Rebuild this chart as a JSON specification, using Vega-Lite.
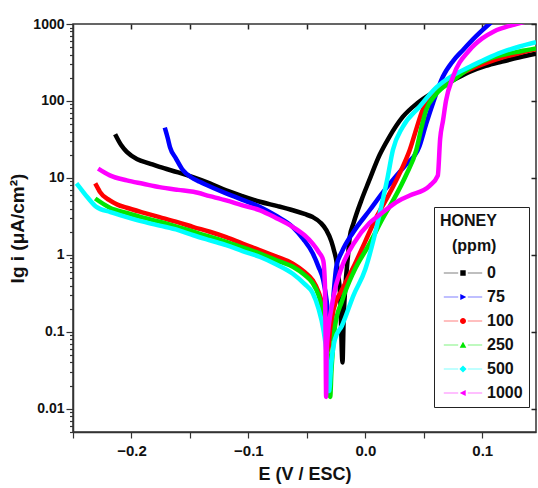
{
  "$schema": "https://vega.github.io/schema/vega-lite/v6.json",
  "width": 463,
  "height": 408,
  "autosize": {"type": "none"},
  "padding": {"left": 73, "top": 24, "right": 2, "bottom": 56},
  "background": "white",
  "config": {
    "font": "Liberation Sans",
    "view": {"stroke": "#333333", "strokeWidth": 1.5},
    "legend": {"symbolStrokeWidth": 0},
    "axis": {
      "domainColor": "#333333",
      "domainWidth": 1.5,
      "tickColor": "#333333",
      "tickWidth": 1.2,
      "grid": false,
      "labelFont": "Liberation Sans",
      "labelFontWeight": "bold",
      "labelColor": "#111111",
      "titleFont": "Liberation Sans",
      "titleFontWeight": "bold",
      "titleColor": "#111111",
      "labelOverlap": false
    }
  },
  "data": {
    "values": [
      {"ppm": "0", "E": -0.214, "i": 37},
      {"ppm": "0", "E": -0.209, "i": 27},
      {"ppm": "0", "E": -0.204, "i": 21.8},
      {"ppm": "0", "E": -0.195, "i": 17.5},
      {"ppm": "0", "E": -0.185, "i": 15.5},
      {"ppm": "0", "E": -0.176, "i": 13.9},
      {"ppm": "0", "E": -0.16, "i": 11.8},
      {"ppm": "0", "E": -0.148, "i": 10.3},
      {"ppm": "0", "E": -0.133, "i": 8.5},
      {"ppm": "0", "E": -0.119, "i": 6.9},
      {"ppm": "0", "E": -0.105, "i": 5.8},
      {"ppm": "0", "E": -0.09, "i": 4.9},
      {"ppm": "0", "E": -0.075, "i": 4.3},
      {"ppm": "0", "E": -0.062, "i": 3.8},
      {"ppm": "0", "E": -0.052, "i": 3.4},
      {"ppm": "0", "E": -0.045, "i": 3.1},
      {"ppm": "0", "E": -0.038, "i": 2.6},
      {"ppm": "0", "E": -0.0333, "i": 2.1},
      {"ppm": "0", "E": -0.029, "i": 1.5},
      {"ppm": "0", "E": -0.0265, "i": 1.1},
      {"ppm": "0", "E": -0.0248, "i": 0.85},
      {"ppm": "0", "E": -0.0235, "i": 0.6},
      {"ppm": "0", "E": -0.0215, "i": 0.3},
      {"ppm": "0", "E": -0.0195, "i": 0.04},
      {"ppm": "0", "E": -0.0185, "i": 0.15},
      {"ppm": "0", "E": -0.017, "i": 0.4},
      {"ppm": "0", "E": -0.015, "i": 0.9},
      {"ppm": "0", "E": -0.0133, "i": 1.7},
      {"ppm": "0", "E": -0.01, "i": 2.6},
      {"ppm": "0", "E": -0.0034, "i": 5.1},
      {"ppm": "0", "E": 0.003, "i": 9},
      {"ppm": "0", "E": 0.0123, "i": 20},
      {"ppm": "0", "E": 0.02, "i": 33},
      {"ppm": "0", "E": 0.032, "i": 62},
      {"ppm": "0", "E": 0.045, "i": 95},
      {"ppm": "0", "E": 0.061, "i": 138},
      {"ppm": "0", "E": 0.075, "i": 185},
      {"ppm": "0", "E": 0.089, "i": 238},
      {"ppm": "0", "E": 0.103, "i": 285},
      {"ppm": "0", "E": 0.117, "i": 325},
      {"ppm": "0", "E": 0.132, "i": 370},
      {"ppm": "0", "E": 0.146, "i": 412},

      {"ppm": "75", "E": -0.1715, "i": 45},
      {"ppm": "75", "E": -0.169, "i": 33},
      {"ppm": "75", "E": -0.167, "i": 25},
      {"ppm": "75", "E": -0.162, "i": 18},
      {"ppm": "75", "E": -0.156, "i": 12.6},
      {"ppm": "75", "E": -0.149, "i": 10.2},
      {"ppm": "75", "E": -0.1416, "i": 8.9},
      {"ppm": "75", "E": -0.13, "i": 7.4},
      {"ppm": "75", "E": -0.119, "i": 6.3},
      {"ppm": "75", "E": -0.105, "i": 5.2},
      {"ppm": "75", "E": -0.09, "i": 4.2},
      {"ppm": "75", "E": -0.076, "i": 3.2},
      {"ppm": "75", "E": -0.062, "i": 2.3},
      {"ppm": "75", "E": -0.053, "i": 1.6},
      {"ppm": "75", "E": -0.045, "i": 1.05},
      {"ppm": "75", "E": -0.04, "i": 0.7},
      {"ppm": "75", "E": -0.036, "i": 0.47},
      {"ppm": "75", "E": -0.033, "i": 0.25},
      {"ppm": "75", "E": -0.031, "i": 0.12},
      {"ppm": "75", "E": -0.03, "i": 0.08},
      {"ppm": "75", "E": -0.028, "i": 0.2},
      {"ppm": "75", "E": -0.0265, "i": 0.4},
      {"ppm": "75", "E": -0.0248, "i": 0.7},
      {"ppm": "75", "E": -0.02, "i": 1.1},
      {"ppm": "75", "E": -0.01, "i": 2.0},
      {"ppm": "75", "E": 0.0037, "i": 3.8},
      {"ppm": "75", "E": 0.015, "i": 6.5},
      {"ppm": "75", "E": 0.025, "i": 10},
      {"ppm": "75", "E": 0.035, "i": 15},
      {"ppm": "75", "E": 0.046, "i": 25},
      {"ppm": "75", "E": 0.052, "i": 50},
      {"ppm": "75", "E": 0.058, "i": 95},
      {"ppm": "75", "E": 0.0663, "i": 206},
      {"ppm": "75", "E": 0.075, "i": 330},
      {"ppm": "75", "E": 0.0834, "i": 457},
      {"ppm": "75", "E": 0.095, "i": 700},
      {"ppm": "75", "E": 0.106, "i": 1000},
      {"ppm": "75", "E": 0.115, "i": 1300},

      {"ppm": "100", "E": -0.231, "i": 8.5},
      {"ppm": "100", "E": -0.229, "i": 7.5},
      {"ppm": "100", "E": -0.227, "i": 6.6},
      {"ppm": "100", "E": -0.2185, "i": 5.1},
      {"ppm": "100", "E": -0.212, "i": 4.5},
      {"ppm": "100", "E": -0.204, "i": 4.1},
      {"ppm": "100", "E": -0.19, "i": 3.55},
      {"ppm": "100", "E": -0.176, "i": 3.1},
      {"ppm": "100", "E": -0.16, "i": 2.65},
      {"ppm": "100", "E": -0.147, "i": 2.3},
      {"ppm": "100", "E": -0.133, "i": 2.0},
      {"ppm": "100", "E": -0.119, "i": 1.7},
      {"ppm": "100", "E": -0.105, "i": 1.4},
      {"ppm": "100", "E": -0.09, "i": 1.15},
      {"ppm": "100", "E": -0.076, "i": 0.95},
      {"ppm": "100", "E": -0.062, "i": 0.77},
      {"ppm": "100", "E": -0.052, "i": 0.6},
      {"ppm": "100", "E": -0.045, "i": 0.47},
      {"ppm": "100", "E": -0.04, "i": 0.33},
      {"ppm": "100", "E": -0.036, "i": 0.2},
      {"ppm": "100", "E": -0.034, "i": 0.12},
      {"ppm": "100", "E": -0.032, "i": 0.057},
      {"ppm": "100", "E": -0.03, "i": 0.1},
      {"ppm": "100", "E": -0.027, "i": 0.2},
      {"ppm": "100", "E": -0.02, "i": 0.35},
      {"ppm": "100", "E": -0.01, "i": 0.7},
      {"ppm": "100", "E": 0.0, "i": 1.5},
      {"ppm": "100", "E": 0.01, "i": 3.2},
      {"ppm": "100", "E": 0.02, "i": 6},
      {"ppm": "100", "E": 0.03, "i": 12},
      {"ppm": "100", "E": 0.038, "i": 23},
      {"ppm": "100", "E": 0.044, "i": 45},
      {"ppm": "100", "E": 0.049, "i": 76},
      {"ppm": "100", "E": 0.055, "i": 105},
      {"ppm": "100", "E": 0.061, "i": 138},
      {"ppm": "100", "E": 0.075, "i": 200},
      {"ppm": "100", "E": 0.089, "i": 255},
      {"ppm": "100", "E": 0.103, "i": 310},
      {"ppm": "100", "E": 0.117, "i": 365},
      {"ppm": "100", "E": 0.132, "i": 420},
      {"ppm": "100", "E": 0.146, "i": 470},

      {"ppm": "250", "E": -0.231, "i": 5.4},
      {"ppm": "250", "E": -0.2185, "i": 4.1},
      {"ppm": "250", "E": -0.204, "i": 3.5},
      {"ppm": "250", "E": -0.19, "i": 3.05},
      {"ppm": "250", "E": -0.176, "i": 2.7},
      {"ppm": "250", "E": -0.16, "i": 2.3},
      {"ppm": "250", "E": -0.147, "i": 2.0},
      {"ppm": "250", "E": -0.133, "i": 1.72},
      {"ppm": "250", "E": -0.119, "i": 1.48},
      {"ppm": "250", "E": -0.105, "i": 1.25},
      {"ppm": "250", "E": -0.09, "i": 1.04},
      {"ppm": "250", "E": -0.076, "i": 0.85},
      {"ppm": "250", "E": -0.062, "i": 0.7},
      {"ppm": "250", "E": -0.052, "i": 0.55},
      {"ppm": "250", "E": -0.045, "i": 0.43},
      {"ppm": "250", "E": -0.04, "i": 0.3},
      {"ppm": "250", "E": -0.036, "i": 0.17},
      {"ppm": "250", "E": -0.033, "i": 0.07},
      {"ppm": "250", "E": -0.031, "i": 0.03},
      {"ppm": "250", "E": -0.03, "i": 0.0143},
      {"ppm": "250", "E": -0.029, "i": 0.03},
      {"ppm": "250", "E": -0.027, "i": 0.08},
      {"ppm": "250", "E": -0.026, "i": 0.116},
      {"ppm": "250", "E": -0.02, "i": 0.25},
      {"ppm": "250", "E": -0.01, "i": 0.6},
      {"ppm": "250", "E": 0.0037, "i": 1.4},
      {"ppm": "250", "E": 0.015, "i": 3},
      {"ppm": "250", "E": 0.025, "i": 5.5},
      {"ppm": "250", "E": 0.035, "i": 11},
      {"ppm": "250", "E": 0.0436, "i": 23},
      {"ppm": "250", "E": 0.048, "i": 45},
      {"ppm": "250", "E": 0.052, "i": 76},
      {"ppm": "250", "E": 0.06, "i": 120},
      {"ppm": "250", "E": 0.075, "i": 185},
      {"ppm": "250", "E": 0.089, "i": 265},
      {"ppm": "250", "E": 0.103, "i": 340},
      {"ppm": "250", "E": 0.117, "i": 395},
      {"ppm": "250", "E": 0.132, "i": 440},
      {"ppm": "250", "E": 0.146, "i": 480},

      {"ppm": "500", "E": -0.247, "i": 8.5},
      {"ppm": "500", "E": -0.242, "i": 6.8},
      {"ppm": "500", "E": -0.238, "i": 5.7},
      {"ppm": "500", "E": -0.23, "i": 4.2},
      {"ppm": "500", "E": -0.218, "i": 3.6},
      {"ppm": "500", "E": -0.204, "i": 3.1},
      {"ppm": "500", "E": -0.19, "i": 2.7},
      {"ppm": "500", "E": -0.176, "i": 2.4},
      {"ppm": "500", "E": -0.16, "i": 2.1},
      {"ppm": "500", "E": -0.147, "i": 1.8},
      {"ppm": "500", "E": -0.133, "i": 1.55},
      {"ppm": "500", "E": -0.119, "i": 1.34},
      {"ppm": "500", "E": -0.105, "i": 1.12},
      {"ppm": "500", "E": -0.09, "i": 0.94},
      {"ppm": "500", "E": -0.076, "i": 0.75},
      {"ppm": "500", "E": -0.062, "i": 0.57},
      {"ppm": "500", "E": -0.052, "i": 0.42},
      {"ppm": "500", "E": -0.045, "i": 0.32},
      {"ppm": "500", "E": -0.04, "i": 0.2},
      {"ppm": "500", "E": -0.036, "i": 0.11},
      {"ppm": "500", "E": -0.033, "i": 0.05},
      {"ppm": "500", "E": -0.031, "i": 0.017},
      {"ppm": "500", "E": -0.029, "i": 0.04},
      {"ppm": "500", "E": -0.026, "i": 0.08},
      {"ppm": "500", "E": -0.02, "i": 0.12},
      {"ppm": "500", "E": -0.01, "i": 0.3},
      {"ppm": "500", "E": 0.0, "i": 0.65},
      {"ppm": "500", "E": 0.008, "i": 1.8},
      {"ppm": "500", "E": 0.014, "i": 4.5},
      {"ppm": "500", "E": 0.019, "i": 10},
      {"ppm": "500", "E": 0.0236, "i": 23},
      {"ppm": "500", "E": 0.032, "i": 46},
      {"ppm": "500", "E": 0.046, "i": 83},
      {"ppm": "500", "E": 0.061, "i": 151},
      {"ppm": "500", "E": 0.075, "i": 215},
      {"ppm": "500", "E": 0.089, "i": 277},
      {"ppm": "500", "E": 0.103, "i": 350},
      {"ppm": "500", "E": 0.117, "i": 430},
      {"ppm": "500", "E": 0.132, "i": 510},
      {"ppm": "500", "E": 0.146, "i": 580},

      {"ppm": "1000", "E": -0.2285, "i": 13.2},
      {"ppm": "1000", "E": -0.2185, "i": 10.8},
      {"ppm": "1000", "E": -0.204, "i": 9.3},
      {"ppm": "1000", "E": -0.19, "i": 8.4},
      {"ppm": "1000", "E": -0.176, "i": 7.6},
      {"ppm": "1000", "E": -0.16, "i": 7.0},
      {"ppm": "1000", "E": -0.147, "i": 6.6},
      {"ppm": "1000", "E": -0.133, "i": 5.8},
      {"ppm": "1000", "E": -0.119, "i": 5.1},
      {"ppm": "1000", "E": -0.105, "i": 4.4},
      {"ppm": "1000", "E": -0.09, "i": 3.8},
      {"ppm": "1000", "E": -0.076, "i": 3.0},
      {"ppm": "1000", "E": -0.062, "i": 2.3},
      {"ppm": "1000", "E": -0.052, "i": 1.8},
      {"ppm": "1000", "E": -0.045, "i": 1.4},
      {"ppm": "1000", "E": -0.04, "i": 1.1},
      {"ppm": "1000", "E": -0.036, "i": 0.85},
      {"ppm": "1000", "E": -0.0345, "i": 0.4},
      {"ppm": "1000", "E": -0.034, "i": 0.1},
      {"ppm": "1000", "E": -0.0335, "i": 0.0143},
      {"ppm": "1000", "E": -0.033, "i": 0.06},
      {"ppm": "1000", "E": -0.0277, "i": 0.26},
      {"ppm": "1000", "E": -0.02, "i": 0.7},
      {"ppm": "1000", "E": -0.01, "i": 1.4},
      {"ppm": "1000", "E": 0.0037, "i": 2.6},
      {"ppm": "1000", "E": 0.012, "i": 3.3},
      {"ppm": "1000", "E": 0.029, "i": 5.1},
      {"ppm": "1000", "E": 0.038, "i": 5.9},
      {"ppm": "1000", "E": 0.055, "i": 7.9},
      {"ppm": "1000", "E": 0.062, "i": 10.7},
      {"ppm": "1000", "E": 0.064, "i": 32},
      {"ppm": "1000", "E": 0.0665, "i": 56},
      {"ppm": "1000", "E": 0.069, "i": 100},
      {"ppm": "1000", "E": 0.075, "i": 206},
      {"ppm": "1000", "E": 0.089, "i": 456},
      {"ppm": "1000", "E": 0.1, "i": 650},
      {"ppm": "1000", "E": 0.11, "i": 800},
      {"ppm": "1000", "E": 0.129, "i": 1000},
      {"ppm": "1000", "E": 0.14, "i": 1100}
    ]
  },
  "layer": [
    {
      "mark": {"type": "point", "opacity": 0, "clip": true},
      "encoding": {
        "x": {
          "field": "E", "type": "quantitative",
          "scale": {"domain": [-0.25, 0.146], "nice": false, "zero": false},
          "axis": {
            "orient": "top", "title": null, "labels": false, "domain": false,
            "ticks": true, "tickSize": 5, "offset": -5, "tickColor": "#222222", "tickWidth": 1.5,
            "values": [-0.2, -0.15, -0.1, -0.05, 0, 0.05, 0.1]
          }
        },
        "y": {
          "field": "i", "type": "quantitative",
          "scale": {"type": "log", "domain": [0.005, 1000], "nice": false},
          "axis": {
            "orient": "right", "title": null, "labels": false, "domain": false,
            "ticks": true, "tickSize": 5, "offset": -5, "tickColor": "#222222", "tickWidth": 1.5,
            "values": [0.01, 0.1, 1, 10, 100, 1000]
          }
        }
      }
    },
    {
      "mark": {"type": "line", "strokeWidth": 4.5, "clip": true, "interpolate": "monotone"},
      "encoding": {
        "x": {
          "field": "E", "type": "quantitative",
          "scale": {"domain": [-0.25, 0.146], "nice": false, "zero": false},
          "axis": {
            "orient": "bottom",
            "title": "E (V / ESC)",
            "titleFontSize": 18,
            "titlePadding": 7,
            "labelFontSize": 15,
            "labelPadding": 5,
            "tickSize": 6,
            "values": [-0.25, -0.2, -0.15, -0.1, -0.05, 0, 0.05, 0.1],
            "labelExpr": "abs(datum.value*10 - round(datum.value*10)) < 0.001 ? format(datum.value, '.1f') : ''"
          }
        },
        "y": {
          "field": "i", "type": "quantitative",
          "scale": {"type": "log", "domain": [0.005, 1000], "nice": false},
          "axis": {
            "orient": "left",
            "title": "lg i (μA/cm²)",
            "titleFontSize": 19,
            "titlePadding": 5,
            "labelFontSize": 14,
            "labelPadding": 2,
            "tickSize": {"condition": {"test": "abs(log(datum.value)/LN10 - round(log(datum.value)/LN10)) < 0.001", "value": 7}, "value": 3.5},
            "values": [0.005, 0.006, 0.007, 0.008, 0.009, 0.01, 0.02, 0.03, 0.04, 0.05, 0.06, 0.07, 0.08, 0.09, 0.1, 0.2, 0.3, 0.4, 0.5, 0.6, 0.7, 0.8, 0.9, 1, 2, 3, 4, 5, 6, 7, 8, 9, 10, 20, 30, 40, 50, 60, 70, 80, 90, 100, 200, 300, 400, 500, 600, 700, 800, 900, 1000],
            "labelExpr": "abs(log(datum.value)/LN10 - round(log(datum.value)/LN10)) < 0.001 ? format(datum.value, '~g') : ''"
          }
        },
        "color": {
          "field": "ppm", "type": "nominal",
          "scale": {
            "domain": ["0", "75", "100", "250", "500", "1000"],
            "range": ["#000000", "#0000ff", "#ff0000", "#00e600", "#00ffff", "#ff00ff"]
          },
          "legend": {
            "orient": "none",
            "legendX": 361,
            "legendY": 183,
            "title": ["HONEY", "\u2800(ppm)"],
            "titleFont": "Liberation Sans",
            "titleFontSize": 16,
            "titleFontWeight": "bold",
            "titleColor": "#111111",
            "titleLineHeight": 25,
            "titlePadding": 11,
            "labelFont": "Liberation Sans",
            "labelFontSize": 16,
            "labelFontWeight": "bold",
            "labelColor": "#111111",
            "labelOffset": 16,
            "symbolSize": 144,
            "symbolOffset": 15,
            "symbolStrokeWidth": 0,
            "rowPadding": 8,
            "padding": 6,
            "strokeColor": "#222222",
            "fillColor": "white",
            "encode": {
              "symbols": {
                "update": {
                  "shape": {"signal": "datum.value === '0' ? 'M-3.2,-0.06H-0.8V0.06H-3.2ZM0.8,-0.06H3.2V0.06H0.8ZM-0.45,-0.45H0.45V0.45H-0.45Z' : datum.value === '75' ? 'M-3.2,-0.06H-0.8V0.06H-3.2ZM0.8,-0.06H3.2V0.06H0.8ZM-0.45,-0.5L0.55,0L-0.45,0.5Z' : datum.value === '100' ? 'M-3.2,-0.06H-0.8V0.06H-3.2ZM0.8,-0.06H3.2V0.06H0.8ZM-0.5,0A0.5,0.5 0 1,0 0.5,0A0.5,0.5 0 1,0 -0.5,0Z' : datum.value === '250' ? 'M-3.2,-0.06H-0.8V0.06H-3.2ZM0.8,-0.06H3.2V0.06H0.8ZM0,-0.55L0.55,0.45L-0.55,0.45Z' : datum.value === '500' ? 'M-3.2,-0.06H-0.8V0.06H-3.2ZM0.8,-0.06H3.2V0.06H0.8ZM0,-0.6L0.6,0L0,0.6L-0.6,0Z' : 'M-3.2,-0.06H-0.8V0.06H-3.2ZM0.8,-0.06H3.2V0.06H0.8ZM0.45,-0.5L-0.55,0L0.45,0.5Z'"},
                  "fill": {"scale": "color", "field": "value"},
                  "stroke": {"value": "transparent"},
                  "strokeWidth": {"value": 0}
                }
              }
            }
          }
        }
      }
    }
  ],
  "resolve": {
    "scale": {"x": "independent", "y": "independent"},
    "axis": {"x": "independent", "y": "independent"}
  }
}
